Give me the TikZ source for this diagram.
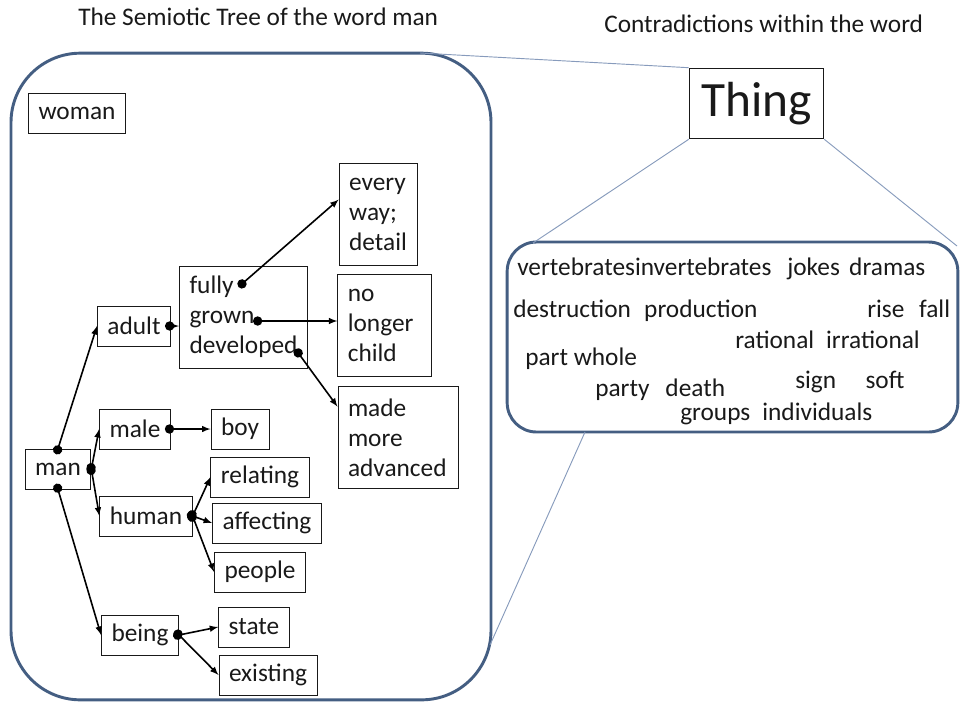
\documentclass[tikz,border=0pt]{standalone}
\usepackage{fontspec}
\setmainfont{Carlito}
\usepackage{tikz}
\usetikzlibrary{arrows}
\usetikzlibrary{shapes}

\definecolor{frame}{RGB}{68,94,130}
\definecolor{callout}{RGB}{135,155,188}
\definecolor{ink}{RGB}{25,25,25}

\begin{document}
\begin{tikzpicture}[x=0.75pt,y=-0.75pt,font=\fontsize{19}{22.5}\selectfont,text=ink,
  word/.style={draw=ink, line width=0.7pt, inner xsep=7.5pt, minimum height=30pt},
  sense/.style={word, align=left, minimum height=76.5pt},
  pairword/.style={anchor=base west, inner sep=0pt},
  link/.style={*-latex, line width=1.2pt, draw=black, shorten <=-4.5pt},
  pale/.style={draw=callout, line width=0.7pt}]
\useasboundingbox (0,0) rectangle (960,704);

\node[pairword] (title) at (78,25) {The Semiotic Tree of the word man};
\node[pairword] (contra) at (604,32) {Contradictions within the word};

% the two frames
\node[draw=frame, line width=2.2pt, rounded corners=52pt, minimum width=360pt, minimum height=485pt] (tree) at (251,376.5) {};
\node[draw=frame, line width=2.2pt, rounded corners=22pt, minimum width=338pt, minimum height=142.5pt] (pairs) at (732.5,337) {};

\coordinate (treetop) at (420,53);
\coordinate (treeside) at (490,645);
\coordinate (pairtop) at (533,243);
\coordinate (paircorner) at (957,246);
\coordinate (pairbottom) at (585,432);

\node[draw=ink, line width=0.7pt, fill=white, minimum width=101pt, minimum height=53pt, font=\fontsize{37}{40}\selectfont] (thing) at (756.5,103.5) {Thing};
\draw[pale] (treetop) -- (thing.north west);
\draw[pale] (thing.south west) -- (pairtop);
\draw[pale] (thing.south east) -- (paircorner);
\draw[pale] (pairbottom) -- (treeside);

% contradictions
\node[pairword] (vert) at (517,275) {vertebratesinvertebrates};
\node[pairword] (jokes) at (787,275) {jokes\hspace{7pt}dramas};
\node[pairword] (destr) at (513,317) {destruction\hspace{10pt}production};
\node[pairword] (rise) at (867,317) {rise\hspace{11pt}fall};
\node[pairword] (ration) at (735,348) {rational\hspace{9pt}irrational};
\node[pairword] (part) at (525,365) {part whole};
\node[pairword] (sign) at (795,388) {sign\hspace{22pt}soft};
\node[pairword] (party) at (595,396) {party\hspace{12pt}death};
\node[pairword] (groups) at (680,420) {groups\hspace{9pt}individuals};

% the tree
\node[word] (woman) at (77,113) {woman};
\node[word] (man) at (58,469) {man};
\node[word] (adult) at (134,326) {adult};
\node[word] (male) at (135,429) {male};
\node[word] (human) at (146,516) {human};
\node[word] (being) at (140,635) {being};
\node[word] (boy) at (240,429) {boy};
\node[word] (relating) at (260,477) {relating};
\node[word] (affecting) at (267,523) {affecting};
\node[word] (people) at (260,572) {people};
\node[word] (state) at (254,627) {state};
\node[word] (existing) at (268,675) {existing};

\node[sense, text width=81pt] (grown) at (243.5,317) {fully\\grown\\developed};
\node[sense, text width=44pt] (every) at (378.5,214) {every\\way;\\detail};
\node[sense, text width=55pt] (child) at (384.5,325) {no\\longer\\child};
\node[sense, text width=75pt] (advanced) at (398,437.5) {made\\more\\advanced};

\coordinate (fullyend) at (243,283);
\coordinate (grownend) at (259,321);
\coordinate (devend) at (299,354);

\draw[link] (man.north) -- (adult.west);
\draw[link] (man.east) -- (male.west);
\draw[link] (man.east) -- (human.west);
\draw[link] (man.south) -- (being.west);
\draw[link] (adult.east) -- (adult.east -| grown.west);
\draw[link] (fullyend) -- (every.160);
\draw[link] (grownend) -- (grownend -| child.west);
\draw[link] (devend) -- (advanced.153);
\draw[link] (male.east) -- (boy.west);
\draw[link] (human.east) -- (relating.west);
\draw[link] (human.east) -- (affecting.west);
\draw[link] (human.east) -- (people.west);
\draw[link] (being.east) -- (state.west);
\draw[link] (being.east) -- (existing.west);
\end{tikzpicture}
\end{document}
